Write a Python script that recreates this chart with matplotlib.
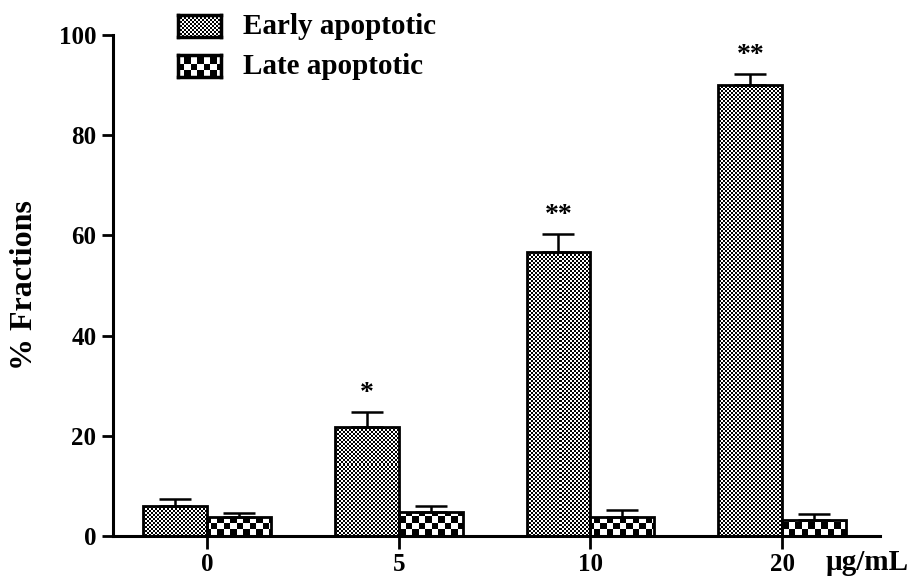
import numpy as np
import matplotlib
matplotlib.use("Agg")
import matplotlib.pyplot as plt
from matplotlib.patches import Rectangle

plt.rcParams['font.family'] = ['Liberation Serif', 'DejaVu Serif']
plt.rcParams['font.weight'] = 'bold'

# Data
doses = ['0', '5', '10', '20']
early = [5.9, 21.8, 56.6, 90.0]
early_err = [1.5, 2.9, 3.6, 2.2]
late = [3.7, 4.7, 3.7, 3.2]
late_err = [0.9, 1.2, 1.5, 1.1]
stars = ['', '*', '**', '**']
series_names = ['Early apoptotic', 'Late apoptotic']

W, H, DPI = 915, 578, 100
fig = plt.figure(figsize=(W / DPI, H / DPI), dpi=DPI)
ax_box = [113 / W, 1 - 536 / H, (880 - 113) / W, (536 - 35) / H]
ax = fig.add_axes(ax_box)

x = np.arange(len(doses))
bw = 1 / 3
xlim = (-0.49, 3.51)
ylim = (0, 100)
ax.set_xlim(*xlim)
ax.set_ylim(*ylim)


def checker(cell, w_px, h_px):
    ny = int(np.ceil(h_px / cell))
    nx = int(np.ceil(w_px / cell))
    return (np.add.outer(np.arange(ny), np.arange(nx)) % 2).astype(float)


ax_w_px = ax_box[2] * W
ax_h_px = ax_box[3] * H
tex_fine = checker(2, ax_w_px, ax_h_px)
tex_coarse = checker(6.5, ax_w_px, ax_h_px)


def textured_bars(xs, heights, tex, cell):
    ny, nx = tex.shape
    ext = (xlim[0], xlim[0] + nx * cell / ax_w_px * (xlim[1] - xlim[0]),
           ylim[0], ylim[0] + ny * cell / ax_h_px * (ylim[1] - ylim[0]))
    for xi, h in zip(xs, heights):
        r = Rectangle((xi - bw / 2, 0), bw, h, facecolor='none',
                      edgecolor='black', linewidth=2, zorder=3)
        ax.add_patch(r)
        im = ax.imshow(tex, cmap='gray', extent=ext, origin='lower',
                       aspect='auto', interpolation='nearest', zorder=2,
                       vmin=0, vmax=1)
        im.set_clip_path(r)


textured_bars(x - bw / 2, early, tex_fine, 2)
textured_bars(x + bw / 2, late, tex_coarse, 6.5)
ax.set_xlim(*xlim)
ax.set_ylim(*ylim)

# upper error bars only
ax.errorbar(x - bw / 2, early, yerr=[np.zeros(4), early_err], fmt='none',
            ecolor='black', elinewidth=1.8, capsize=11.5, capthick=1.8, zorder=4)
ax.errorbar(x + bw / 2, late, yerr=[np.zeros(4), late_err], fmt='none',
            ecolor='black', elinewidth=1.8, capsize=11.5, capthick=1.8, zorder=4)

for xi, v, e, s in zip(x, early, early_err, stars):
    if s:
        ax.text(xi - bw / 2, v + e + 1.2, s, ha='center', va='bottom',
                fontsize=20, fontweight='bold')

for side in ['top', 'right']:
    ax.spines[side].set_visible(False)
for side in ['left', 'bottom']:
    ax.spines[side].set_linewidth(2.2)

ax.set_yticks([0, 20, 40, 60, 80, 100])
ax.set_xticks(x)
ax.set_xticklabels(doses)
ax.tick_params(axis='both', width=2, labelsize=18)
ax.tick_params(axis='y', length=8, pad=4)
ax.tick_params(axis='x', length=9, pad=3)
for lab in ax.get_xticklabels() + ax.get_yticklabels():
    lab.set_fontweight('bold')

ax.set_ylabel('% Fractions', fontsize=23, fontweight='bold', va='center')
ax.yaxis.set_label_coords(-0.115, 0.5)
fig.text(867 / W, 1 - 563 / H, 'µg/mL', ha='center', va='center',
         fontsize=21, fontweight='bold')

# legend drawn as small textured swatches
for i, (name, tex, cell) in enumerate(zip(series_names, [tex_fine, tex_coarse], [2, 6.5])):
    top = 15 + i * 40
    lax = fig.add_axes([178 / W, 1 - (top + 22) / H, 43 / W, 22 / H])
    ny = int(np.ceil(22 / cell))
    nx = int(np.ceil(43 / cell))
    lax.imshow(checker(1, nx, ny), cmap='gray', aspect='auto',
               interpolation='nearest', extent=(0, nx * cell, 0, ny * cell),
               vmin=0, vmax=1)
    lax.set_xlim(0, 43)
    lax.set_ylim(0, 22)
    lax.set_xticks([])
    lax.set_yticks([])
    for sp in lax.spines.values():
        sp.set_linewidth(2.5)
    fig.text(243 / W, 1 - (top + 12) / H, name, ha='left', va='center',
             fontsize=21, fontweight='bold')

fig.savefig('out.png', dpi=DPI)
